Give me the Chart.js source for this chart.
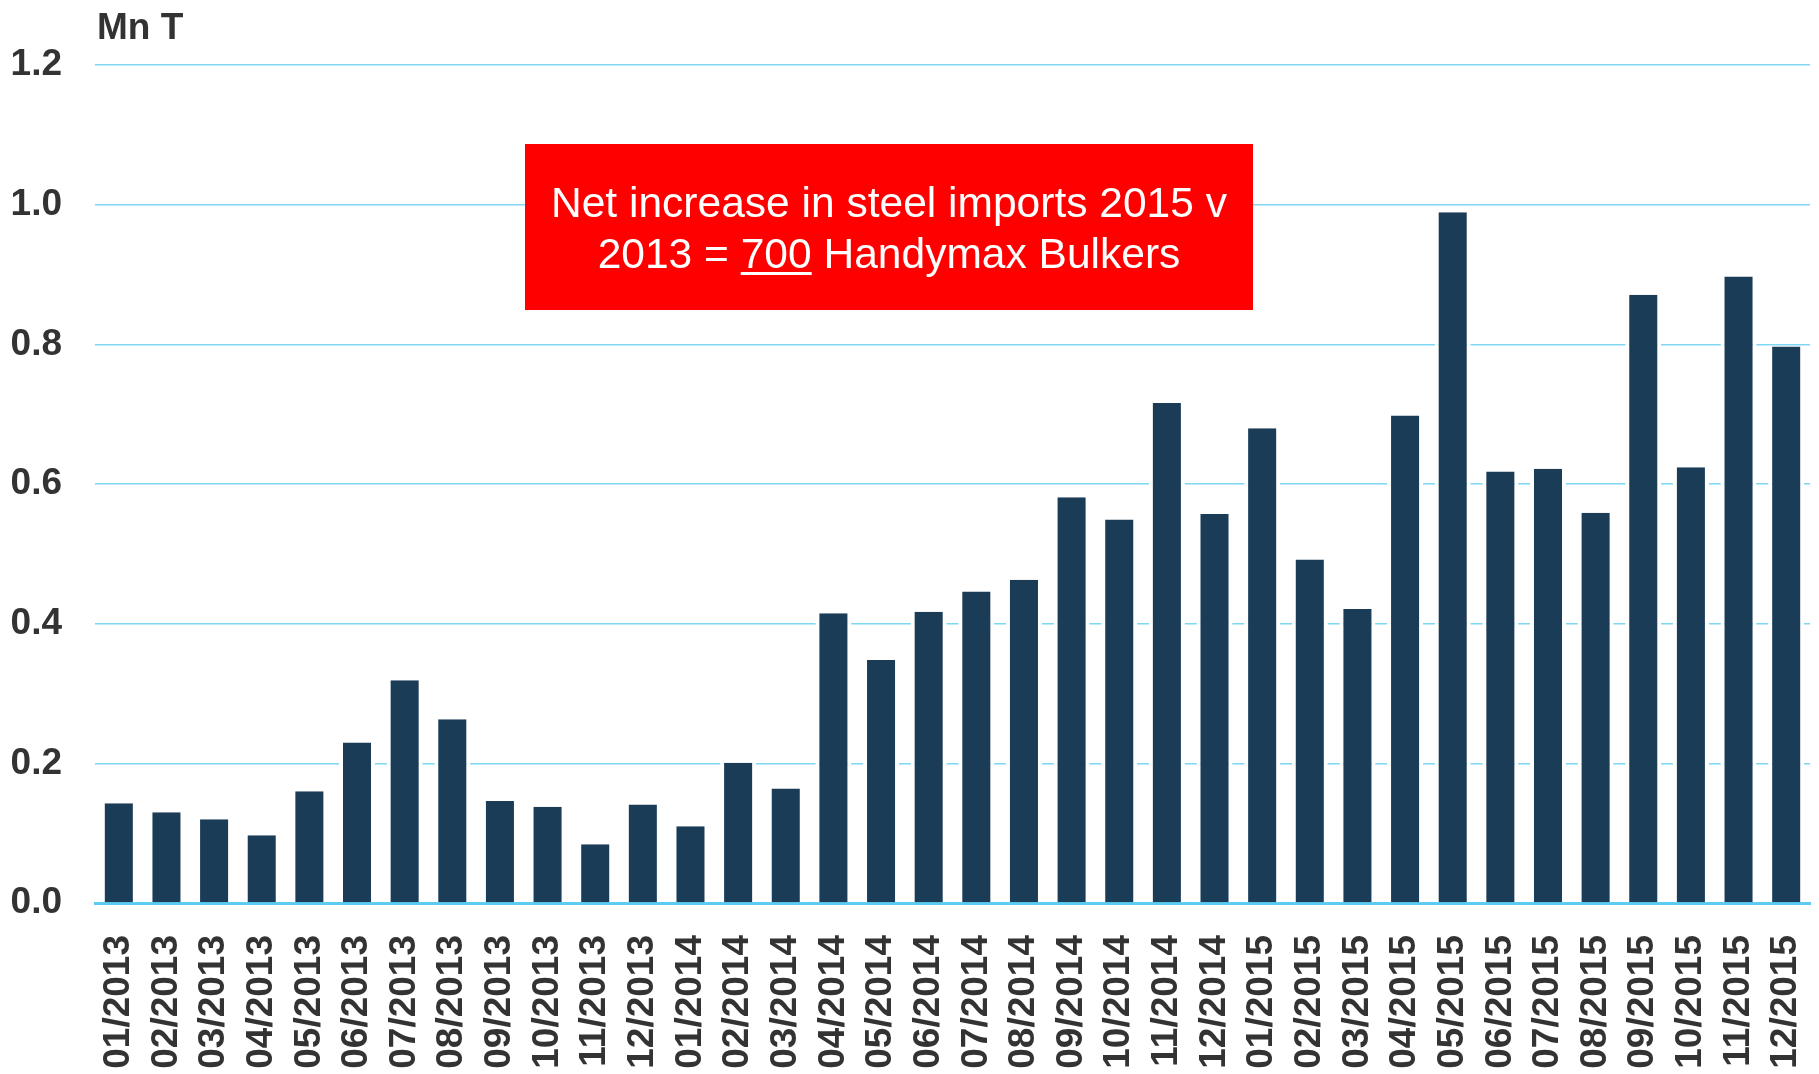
<!DOCTYPE html>
<html>
<head>
<meta charset="utf-8">
<title>Steel imports</title>
<script src="https://cdn.jsdelivr.net/npm/chart.js@4.4.1/dist/chart.umd.min.js"></script>
<style>
  body { margin: 0; background: #fff; }
  .chart-container { position: relative; width: 1819px; height: 1074px; }
</style>
</head>
<body>
<div class="chart-container">
  <canvas id="myChart"></canvas>
</div>
<script>
const months = [
  "01/2013", "02/2013", "03/2013", "04/2013", "05/2013", "06/2013",
  "07/2013", "08/2013", "09/2013", "10/2013", "11/2013", "12/2013",
  "01/2014", "02/2014", "03/2014", "04/2014", "05/2014", "06/2014",
  "07/2014", "08/2014", "09/2014", "10/2014", "11/2014", "12/2014",
  "01/2015", "02/2015", "03/2015", "04/2015", "05/2015", "06/2015",
  "07/2015", "08/2015", "09/2015", "10/2015", "11/2015", "12/2015"
];
const imports = [
  0.143, 0.130, 0.120, 0.097, 0.160, 0.230,
  0.319, 0.263, 0.146, 0.138, 0.084, 0.141,
  0.110, 0.201, 0.164, 0.415, 0.348, 0.417,
  0.446, 0.463, 0.581, 0.549, 0.716, 0.557,
  0.680, 0.492, 0.421, 0.698, 0.989, 0.618,
  0.622, 0.559, 0.871, 0.624, 0.897, 0.797
];
const unitLabel = "Mn T";
const noteLine1 = "Net increase in steel imports 2015 v";
const noteLine2 = ["2013 = ", "700", " Handymax Bulkers"];

const FONT = "'Liberation Sans', Arial, Helvetica, sans-serif";

// title above the y axis + the red call-out box
const extras = {
  id: "extras",
  afterDraw(chart) {
    let ctx = chart.ctx;
    ctx.save();
    ctx.fillStyle = "#333333";
    ctx.font = "bold 37px " + FONT;
    ctx.textBaseline = "alphabetic";
    ctx.textAlign = "left";
    ctx.fillText(unitLabel, 97, 39);

    // box
    let bx = 525, by = 144, bw = 728, bh = 166;
    ctx.fillStyle = "#ff0000";
    ctx.fillRect(bx, by, bw, bh);

    let cx = bx + bw / 2;
    ctx.fillStyle = "#ffffff";
    ctx.font = "42px " + FONT;
    ctx.textAlign = "left";
    let w1 = ctx.measureText(noteLine1).width;
    let sx = 676 / w1;
    ctx.save();
    ctx.translate(cx, 0);
    ctx.scale(sx, 1);
    ctx.fillText(noteLine1, -w1 / 2, 217);

    let full = noteLine2.join("");
    let w2 = ctx.measureText(full).width;
    let x = -w2 / 2;
    let wa = ctx.measureText(noteLine2[0]).width;
    let wb = ctx.measureText(noteLine2[1]).width;
    ctx.fillText(full, x, 268);
    ctx.fillRect(x + wa, 272, wb, 3);
    ctx.restore();
    ctx.restore();
  }
};

function drawChart() {
  let ctx = document.getElementById("myChart").getContext("2d");
  new Chart(ctx, {
    type: "bar",
    data: {
      labels: months,
      datasets: [
        {
          label: "Steel imports",
          data: imports,
          backgroundColor: "#1b3c57",
          borderColor: "#ffffff",
          borderWidth: { left: 4, right: 4, top: 0, bottom: 0 },
          borderSkipped: false,
          barPercentage: 0.756,
          categoryPercentage: 1.0,
        },
      ],
    },
    options: {
      responsive: true,
      maintainAspectRatio: false,
      animation: false,
      layout: { padding: { top: 65, right: 9, left: 0, bottom: 0 } },
      plugins: {
        legend: { display: false },
        tooltip: { enabled: false },
      },
      scales: {
        x: {
          grid: { display: false, drawTicks: false },
          border: { display: true, color: "#5ccbf1", width: 3 },
          ticks: {
            autoSkip: false,
            minRotation: 90,
            maxRotation: 90,
            padding: 32,
            color: "#333333",
            font: { family: FONT, size: 37, weight: "bold" },
          },
          afterFit(scale) {
            scale.height = 171;
            // no extra room for the rotated end labels
            scale.paddingLeft = 0;
            scale.paddingRight = 0;
          },
        },
        y: {
          min: 0,
          max: 1.2,
          grid: { color: "#7fd6f3", lineWidth: 1.5, drawTicks: false },
          border: { display: false },
          ticks: {
            stepSize: 0.2,
            padding: 33,
            color: "#333333",
            font: { family: FONT, size: 37, weight: "bold" },
            callback: (v) => v.toFixed(1),
          },
          afterFit(scale) {
            scale.width = 95;
          },
        },
      },
    },
    plugins: [extras],
  });
}

drawChart();
</script>
</body>
</html>
